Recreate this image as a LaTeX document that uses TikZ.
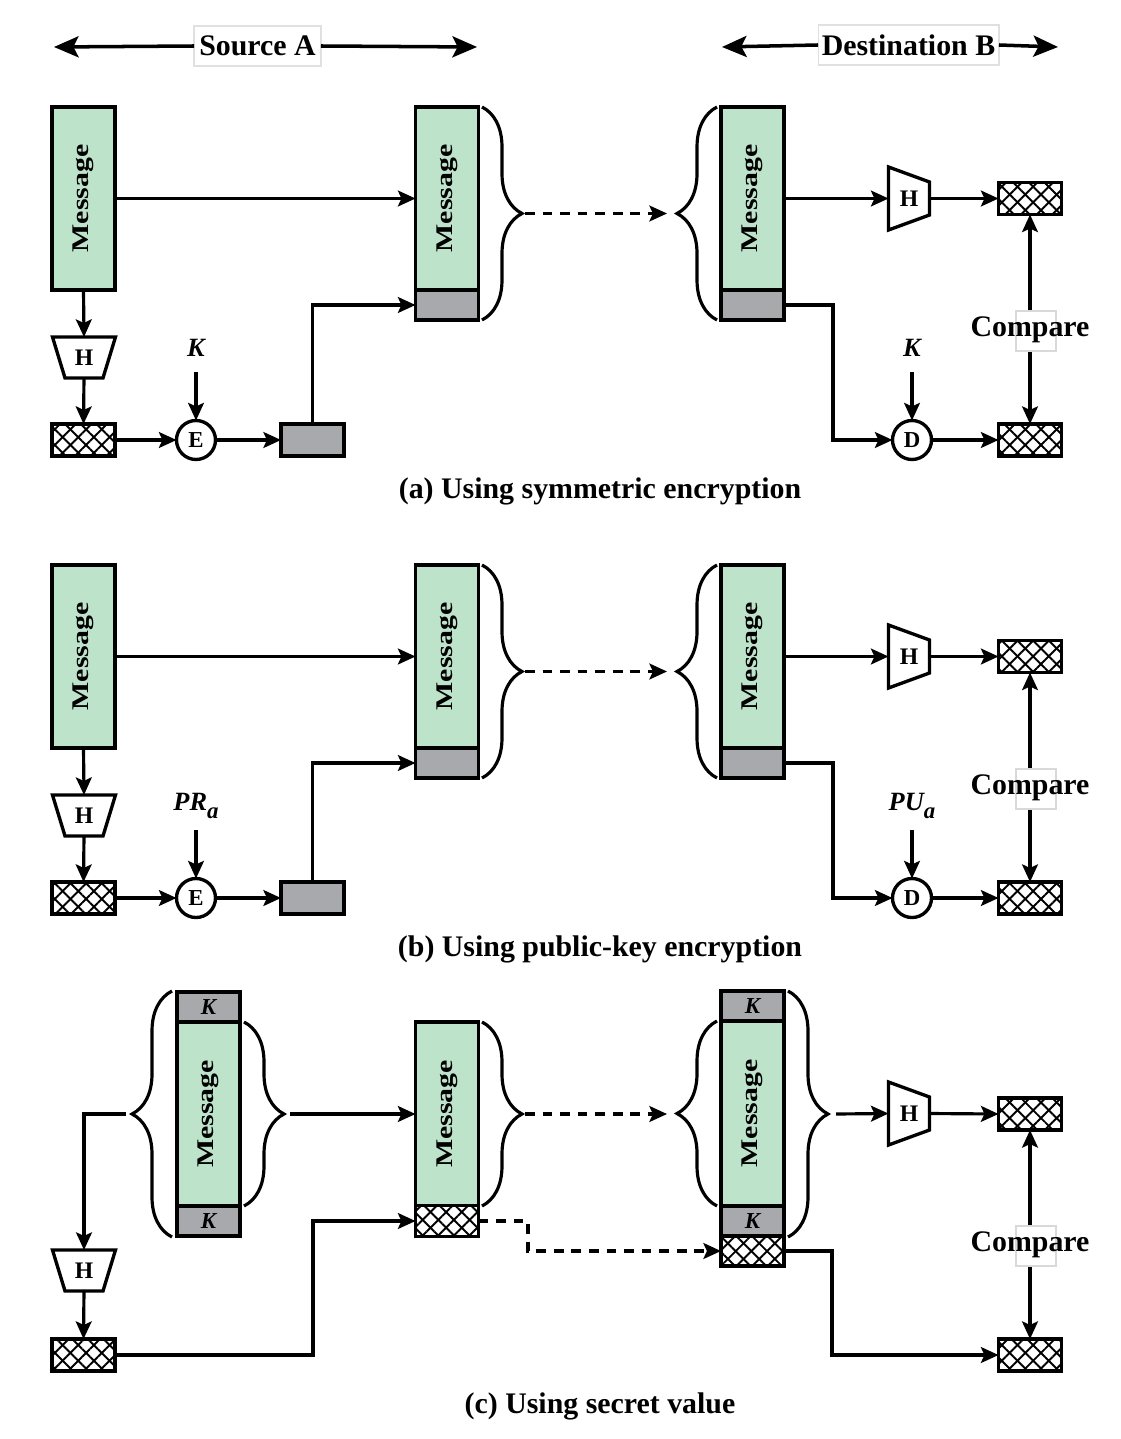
\documentclass[tikz,border=0pt]{standalone}
\usepackage{fontspec}
\setmainfont{Liberation Serif}
\usetikzlibrary{arrows.meta,patterns.meta,decorations.pathreplacing,calc}

\definecolor{msggreen}{HTML}{BEE3CB}
\definecolor{keygray}{HTML}{A7A9AC}

\newcommand\msgtext{\rotatebox{90}{\scalebox{1}[0.8]{\fontsize{17}{17}\selectfont\bfseries Message}}}
\newcommand\ktext{{\fontsize{13}{13}\selectfont\bfseries\itshape K}}

\tikzset{
  every node/.style={inner sep=0pt, outer sep=0pt},
  box/.style={draw=black, line width=2.1pt, minimum width=1.26cm},
  msg/.style={box, fill=msggreen, minimum height=3.66cm},
  gcell/.style={box, fill=keygray, minimum height=0.6cm},
  hatch/.style={box, minimum height=0.64cm,
    preaction={fill=white},
    preaction={pattern={Lines[angle=45,distance=6.3pt,line width=1.1pt]}},
    preaction={pattern={Lines[angle=-45,distance=6.3pt,line width=1.1pt]}}},
  circ/.style={circle, draw=black, line width=1.9pt, fill=white, minimum size=0.78cm,
    font=\bfseries\fontsize{13}{13}\selectfont},
  hlab/.style={font=\bfseries\fontsize{13.5}{13.5}\selectfont},
  trap/.style={draw=black, line width=1.9pt, line join=miter},
  keylab/.style={font=\bfseries\itshape\fontsize{15}{15}\selectfont},
  boldtext/.style={font=\bfseries\fontsize{17}{20}\selectfont},
  hdrbox/.style={boldtext, draw=black!12, line width=0.6pt, fill=white, minimum height=0.8cm},
  cmpbox/.style={draw=black!15, line width=0.6pt, fill=white, minimum width=0.8cm, minimum height=0.8cm},
  conn/.style={line width=1.8pt, -{Stealth[length=10pt,width=9pt,inset=2pt]}},
  dconn/.style={line width=1.8pt, {Stealth[length=10pt,width=9pt,inset=2pt]}-{Stealth[length=10pt,width=9pt,inset=2pt]}},
  dotconn/.style={conn, dash pattern=on 5.5pt off 4.5pt},
  hdrarr/.style={line width=2pt, -{Stealth[length=14pt,width=12pt,inset=3pt]}},
  brc/.style={decorate, decoration={brace, amplitude=0.8cm}, line width=1.8pt},
}

% vertical trapezoid (wide top, narrow bottom)
\newcommand\trapV[3]{%
  \node[hlab] (#1) at (#2,#3) {H};
  \draw[trap] ($(#1)+(-31.5,-20.5)$) -- ($(#1)+(31.5,-20.5)$) -- ($(#1)+(19,20.5)$) -- ($(#1)+(-19,20.5)$) -- cycle;
  \coordinate (#1-n) at ($(#1)+(0,-20.5)$);
  \coordinate (#1-s) at ($(#1)+(0,20.5)$);}
% horizontal trapezoid (wide left, narrow right)
\newcommand\trapH[3]{%
  \node[hlab] (#1) at (#2,#3) {H};
  \draw[trap] ($(#1)+(-20.5,-31.5)$) -- ($(#1)+(20.5,-16.5)$) -- ($(#1)+(20.5,16.5)$) -- ($(#1)+(-20.5,31.5)$) -- cycle;
  \coordinate (#1-w) at ($(#1)+(-20.5,0)$);
  \coordinate (#1-e) at ($(#1)+(20.5,0)$);}

% panels (a) and (b)
\newcommand\panelAB[5]{%
  \node[msg] (m1#2) at (83.5,198.5+#1) {\msgtext};
  \node[msg] (m2#2) at (447,198.5+#1) {\msgtext};
  \node[gcell] (g2#2) at (447,305+#1) {};
  \node[msg] (m3#2) at (752.5,198.5+#1) {\msgtext};
  \node[gcell] (g3#2) at (752.5,305+#1) {};
  \trapV{h1#2}{84}{357.5+#1}
  \node[hatch] (s1#2) at (83.5,440+#1) {};
  \node[circ] (e#2) at (196,440+#1) {E};
  \node[gcell, minimum height=0.64cm] (s2#2) at (312.5,440+#1) {};
  \node[keylab] (ka#2) at (196,348+#1) {#3};
  \coordinate (kae#2) at (196,372+#1);
  \trapH{h2#2}{909}{198.5+#1}
  \node[hatch] (d1#2) at (1030,198.5+#1) {};
  \node[circ] (d#2) at (912,440+#1) {D};
  \node[hatch] (d2#2) at (1030,440+#1) {};
  \node[keylab] (kb#2) at (912,348+#1) {#4};
  \coordinate (kbe#2) at (912,372+#1);
  \draw[brc] (482,107+#1) -- (482,320+#1);
  \coordinate (t2#2) at (525,213.5+#1);
  \draw[brc] (717,320+#1) -- (717,107+#1);
  \coordinate (t3#2) at (667,213.5+#1);
  \draw[conn] (m1#2) -- (m2#2);
  \draw[conn] (m1#2.south) -- (h1#2-n);
  \draw[conn] (h1#2-s) -- (s1#2.north);
  \draw[conn] (s1#2) -- (e#2);
  \draw[conn] (e#2) -- (s2#2);
  \draw[conn] (kae#2) -- (e#2.north);
  \draw[conn] (s2#2.north) |- (g2#2.west);
  \draw[dotconn] (t2#2) -- (t3#2);
  \draw[conn] (m3#2.east) -- (h2#2-w);
  \draw[conn] (h2#2-e) -- (d1#2.west);
  \draw[conn] (g3#2.east) -- ++(49,0) |- (d#2.west);
  \draw[conn] (kbe#2) -- (d#2.north);
  \draw[conn] (d#2) -- (d2#2);
  \draw[dconn] (d1#2) -- (d2#2);
  \node[cmpbox] (cb#2) at (1036,331+#1) {};
  \node[boldtext] (cmp#2) at (1030,330+#1) {Compare};
  \node[boldtext] (cap#2) at (600,491+#1) {#5};
}

\begin{document}
\begin{tikzpicture}[x=0.02cm, y=-0.02cm]
\useasboundingbox (0,0) rectangle (1121,1439);

% header
\node[hdrbox, minimum width=2.54cm] (srcA) at (257.5,46) {Source A};
\coordinate (sAl) at (54,47);
\coordinate (sAr) at (477,47);
\draw[hdrarr] (srcA.west) -- (sAl);
\draw[hdrarr] (srcA.east) -- (sAr);
\node[hdrbox, minimum width=3.62cm] (dstB) at (908.5,45) {Destination B};
\coordinate (dBl) at (722,47);
\coordinate (dBr) at (1058,47);
\draw[hdrarr] (dstB.west) -- (dBl);
\draw[hdrarr] (dstB.east) -- (dBr);

\panelAB{0}{a}{K}{K}{(a) Using symmetric encryption}
\panelAB{458}{b}{PR\raisebox{-0.32em}{\fontsize{13}{13}\selectfont a}}{PU\raisebox{-0.32em}{\fontsize{13}{13}\selectfont a}}{(b) Using public-key encryption}

% panel (c)
\node[gcell] (ck1) at (208.5,1007) {\ktext};
\node[msg, minimum height=3.68cm] (cm1) at (208.5,1114) {\msgtext};
\node[gcell] (ck2) at (208.5,1221) {\ktext};
\draw[brc] (172,1237) -- (172,991);
\coordinate (ct1) at (126,1114);
\draw[brc] (244,1022) -- (244,1206);
\coordinate (ct2) at (290,1114);
\node[msg, minimum height=3.68cm] (cm2) at (447,1114) {\msgtext};
\node[hatch, minimum height=0.62cm] (ch2) at (447,1221) {};
\draw[brc] (482,1022) -- (482,1206);
\coordinate (ct3) at (525,1114);
\node[gcell] (ck3) at (752.5,1006) {\ktext};
\node[msg, minimum height=3.7cm] (cm3) at (752.5,1113.5) {\msgtext};
\node[gcell] (ck4) at (752.5,1221) {\ktext};
\node[hatch, minimum height=0.6cm] (ch3) at (752.5,1251) {};
\draw[brc] (717,1206) -- (717,1021);
\coordinate (ct4) at (667,1114);
\draw[brc] (788,991) -- (788,1237);
\coordinate (ct5) at (836,1114);
\trapV{hcv}{84}{1270.5}
\node[hatch] (cs1) at (83.5,1355) {};
\trapH{hch}{909}{1113.5}
\node[hatch] (cd1) at (1030,1114) {};
\node[hatch] (cd2) at (1030,1355) {};

\draw[conn] (ct1) -| (hcv-n);
\draw[conn] (hcv-s) -- (cs1.north);
\draw[conn] (cs1.east) -- (313,1355) |- (ch2.west);
\draw[conn] (ct2) -- (cm2);
\draw[dotconn] (ct3) -- (ct4);
\draw[dotconn] (ch2.east) -- (528,1221) |- (ch3.west);
\draw[conn] (ct5) -- (hch-w);
\draw[conn] (hch-e) -- (cd1.west);
\draw[conn] (ch3.east) -- (832,1251) |- (cd2.west);
\draw[dconn] (cd1) -- (cd2);
\node[cmpbox] (cbc) at (1036,1246) {};
\node[boldtext] (cmpc) at (1030,1245) {Compare};
\node[boldtext] (capc) at (600,1406) {(c) Using secret value};
\end{tikzpicture}
\end{document}
